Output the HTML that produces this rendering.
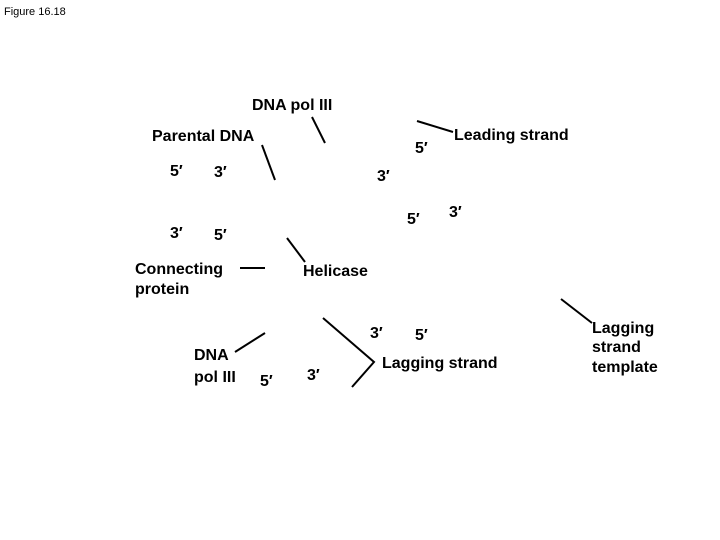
<!DOCTYPE html>
<html><head><style>
html,body{margin:0;padding:0;background:#fff;}
svg{display:block;}
text{font-family:"Liberation Sans",Arial,sans-serif;font-weight:bold;font-size:16px;fill:#000;}
</style></head><body>
<svg width="720" height="540" viewBox="0 0 720 540" xmlns="http://www.w3.org/2000/svg">
<text x="4" y="15" style="font-weight:normal;font-size:11px">Figure 16.18</text>
<text x="252" y="110">DNA pol III</text>
<text x="152" y="141">Parental DNA</text>
<text x="415" y="153">5′</text>
<text x="454" y="140">Leading strand</text>
<text x="170" y="176">5′</text>
<text x="214" y="177">3′</text>
<text x="377" y="181">3′</text>
<text x="449" y="217">3′</text>
<text x="407" y="224">5′</text>
<text x="170" y="238">3′</text>
<text x="214" y="240">5′</text>
<text x="135" y="274">Connecting</text>
<text x="135" y="294">protein</text>
<text x="303" y="276">Helicase</text>
<text x="370" y="338">3′</text>
<text x="415" y="340">5′</text>
<text x="194" y="360">DNA</text>
<text x="194" y="382">pol III</text>
<text x="260" y="386">5′</text>
<text x="307" y="380">3′</text>
<text x="382" y="368">Lagging strand</text>
<text x="592" y="333">Lagging</text>
<text x="592" y="352">strand</text>
<text x="592" y="372">template</text>
<g stroke="#000" stroke-width="2" fill="none">
<line x1="312" y1="117" x2="325" y2="143"/>
<line x1="262" y1="145" x2="275" y2="180"/>
<line x1="417" y1="121" x2="453" y2="132"/>
<line x1="287" y1="238" x2="305" y2="262"/>
<line x1="240" y1="268" x2="265" y2="268"/>
<line x1="235" y1="352" x2="265" y2="333"/>
<polyline points="323,318 374,362 352,387"/>
<line x1="561" y1="299" x2="592" y2="323"/>
</g>
</svg>
</body></html>
